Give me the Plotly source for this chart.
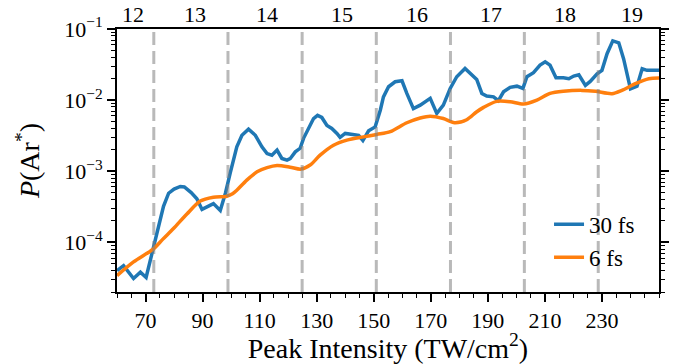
import numpy as np
import plotly.graph_objects as go

# ---- data ----
x_30fs = [60.0, 62.3, 65.8, 68.2, 70.2, 72.8, 76.3, 78.1, 80.0, 82.2, 83.6, 86.0, 88.0, 89.8,
          92.0, 93.8, 96.2, 98.0, 99.7, 102.0, 103.8, 106.1, 108.5, 110.8, 112.6, 114.3,
          116.1, 117.8, 119.6, 120.7, 122.5, 124.2, 125.4, 127.1, 128.9, 130.3, 131.8, 133.6,
          135.3, 137.1, 138.2, 140.0, 142.3, 144.7, 146.2, 148.2, 150.5, 152.3, 153.4, 155.2,
          157.5, 159.9, 161.6, 163.9, 166.3, 169.8, 172.1, 174.4, 176.8, 179.1, 182.0, 184.9,
          186.1, 187.9, 189.6, 192.0, 193.7, 195.5, 197.8, 200.2, 202.3, 203.7, 206.0, 208.3,
          210.1, 211.8, 213.9, 216.5, 218.4, 220.1, 221.9, 224.2, 225.9, 228.3, 230.0, 231.8,
          233.8, 235.9, 237.6, 240.0, 242.3, 244.1, 245.8, 250.0]
p_30fs = [4.0e-5, 4.7e-5, 3.1e-5, 3.8e-5, 3.2e-5, 8.6e-5, 3.2e-4, 4.9e-4, 5.6e-4, 6.1e-4, 6.0e-4,
          5.0e-4, 4.1e-4, 2.9e-4, 3.2e-4, 3.5e-4, 2.8e-4, 4.9e-4, 9.5e-4, 2.2e-3, 3.2e-3, 3.9e-3,
          3.2e-3, 2.2e-3, 1.77e-3, 1.68e-3, 1.98e-3, 1.51e-3, 1.43e-3, 1.5e-3, 1.87e-3, 2.1e-3,
          2.9e-3, 4.0e-3, 5.5e-3, 6.1e-3, 5.7e-3, 4.4e-3, 4.0e-3, 3.4e-3, 3.0e-3, 3.4e-3, 3.3e-3,
          3.2e-3, 2.7e-3, 3.7e-3, 4.2e-3, 7.2e-3, 1.11e-2, 1.54e-2, 1.81e-2, 1.87e-2, 1.24e-2,
          7.6e-3, 8.5e-3, 1.06e-2, 6.5e-3, 8.5e-3, 1.46e-2, 2.13e-2, 2.79e-2, 2.13e-2, 1.95e-2,
          1.24e-2, 1.14e-2, 1.11e-2, 9.8e-3, 1.31e-2, 1.51e-2, 1.57e-2, 1.46e-2, 2.13e-2, 2.43e-2,
          3.1e-2, 3.46e-2, 3.1e-2, 2.06e-2, 2.06e-2, 2.0e-2, 2.18e-2, 2.27e-2, 1.61e-2, 1.83e-2,
          2.34e-2, 2.62e-2, 4.49e-2, 6.8e-2, 6.4e-2, 3.8e-2, 1.44e-2, 1.57e-2, 2.76e-2, 2.62e-2,
          2.62e-2]

x_6fs = [60.0, 65.8, 72.8, 76.0, 79.8, 84.5, 89.2, 93.8, 98.5, 100.5, 102.0, 105.5, 109.1, 112.6,
         116.1, 120.7, 124.5, 127.7, 131.2, 135.9, 140.6, 146.4, 151.1, 155.8, 161.6, 166.3,
         169.8, 174.4, 178.3, 182.6, 186.0, 188.5, 193.1, 197.8, 202.5, 207.2, 211.8, 216.5,
         223.0, 227.7, 233.5, 237.0, 241.7, 246.4, 250.0]
p_6fs = [3.4e-5, 5.3e-5, 8.1e-5, 1.1e-4, 1.56e-4, 2.5e-4, 3.8e-4, 4.3e-4, 4.45e-4, 4.8e-4, 5.4e-4,
         7.5e-4, 9.8e-4, 1.12e-3, 1.2e-3, 1.14e-3, 1.07e-3, 1.22e-3, 1.68e-3, 2.32e-3, 2.73e-3,
         3.04e-3, 3.29e-3, 3.6e-3, 4.8e-3, 5.6e-3, 5.95e-3, 5.5e-3, 4.8e-3, 5.3e-3, 6.8e-3,
         7.9e-3, 9.6e-3, 9.5e-3, 8.8e-3, 1.0e-2, 1.24e-2, 1.33e-2, 1.37e-2, 1.33e-2, 1.23e-2,
         1.37e-2, 1.70e-2, 2.0e-2, 2.04e-2]

thresholds = [72.9, 98.9, 124.9, 150.9, 176.9, 202.8, 228.7]
photon_labels = ["12", "13", "14", "15", "16", "17", "18", "19"]
photon_label_pos = [65.7, 87.3, 112.5, 138.7, 165.0, 191.0, 217.0, 240.5]

x_tick_vals = [70, 90, 110, 130, 150, 170, 190, 210, 230]
x_minor_vals = list(range(60, 251, 5))
y_tick_vals = [1e-4, 1e-3, 1e-2, 1e-1]
y_tick_text = ["10<sup>−4</sup>", "10<sup>−3</sup>", "10<sup>−2</sup>", "10<sup>−1</sup>"]
y_minor_vals = [k * 10.0 ** d for d in range(-5, -1) for k in range(2, 10)]

FONT = "Liberation Serif"

fig = go.Figure()
fig.add_trace(go.Scatter(x=x_30fs, y=p_30fs, mode="lines", name="30 fs",
                         line=dict(color="#1f77b4", width=3.5)))
fig.add_trace(go.Scatter(x=x_6fs, y=p_6fs, mode="lines", name="6 fs",
                         line=dict(color="#ff7f0e", width=3.5, shape="spline", smoothing=0.8)))

for t in thresholds:
    fig.add_shape(type="line", xref="x", yref="paper", x0=t, x1=t, y0=0, y1=1,
                  line=dict(color="rgba(128,128,128,0.55)", width=3, dash="13px,6px"),
                  layer="above")

for lab, pos in zip(photon_labels, photon_label_pos):
    fig.add_annotation(x=pos, y=1, xref="x", yref="paper", text=lab, showarrow=False,
                       yanchor="bottom", yshift=0, font=dict(family=FONT, size=22, color="black"))

fig.update_layout(
    width=678, height=364,
    margin=dict(l=117, r=19, t=29, b=72, autoexpand=False),
    paper_bgcolor="white", plot_bgcolor="white",
    font=dict(family=FONT, size=22, color="black"),
    showlegend=True,
    legend=dict(x=0.965, xanchor="right", y=0.05, yanchor="bottom",
                bgcolor="rgba(0,0,0,0)", font=dict(family=FONT, size=23),
                tracegroupgap=0),
    xaxis=dict(range=[60, 250], tickmode="array", tickvals=x_tick_vals, ticks="outside",
               ticklen=8, tickwidth=1.5, tickcolor="black", showline=True, linewidth=2,
               linecolor="black", mirror=True, showgrid=False, zeroline=False,
               automargin=False,
               minor=dict(tickmode="array", tickvals=x_minor_vals, ticks="outside",
                          ticklen=4, tickwidth=1.2, tickcolor="black", showgrid=False),
               title=dict(text="Peak Intensity (TW/cm<sup>2</sup>)",
                          font=dict(family=FONT, size=28), standoff=0)),
    yaxis=dict(type="log", range=[np.log10(2e-5), -1], tickmode="array",
               tickvals=y_tick_vals, ticktext=y_tick_text, ticks="outside", ticklen=8,
               tickwidth=1.5, tickcolor="black", showline=True, linewidth=2,
               linecolor="black", mirror="ticks", showgrid=False, zeroline=False,
               automargin=False,
               minor=dict(tickmode="array", tickvals=y_minor_vals, ticks="outside",
                          ticklen=4, tickwidth=1.2, tickcolor="black", showgrid=False),
               title=dict(text="<i>P</i>(Ar<sup>*</sup>)",
                          font=dict(family=FONT, size=28), standoff=16)),
)

fig.write_html("out.html", config={"displayModeBar": False},
               post_script="document.body.style.margin='0';")
